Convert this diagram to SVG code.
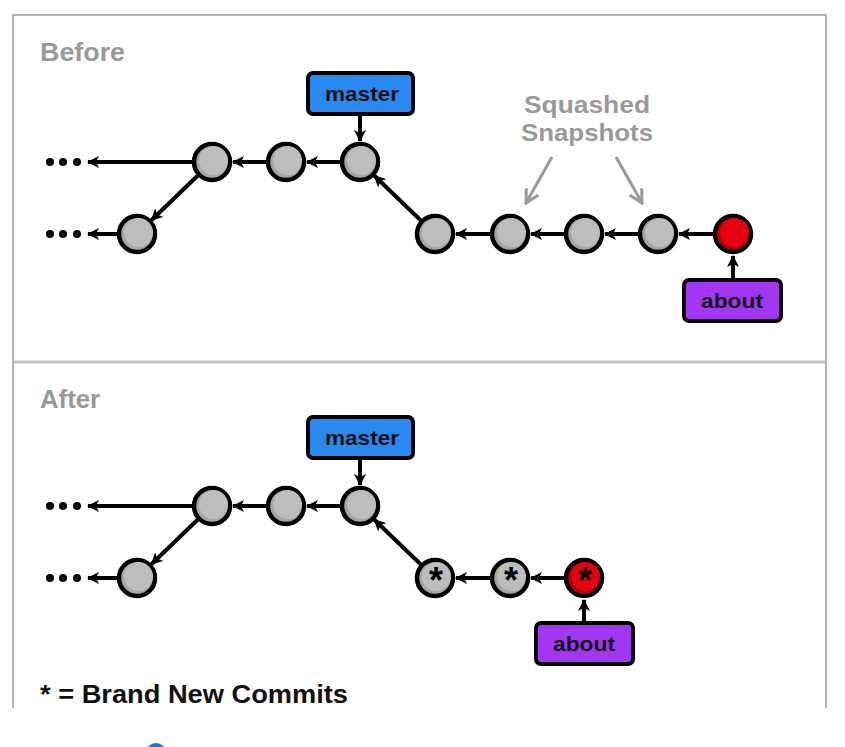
<svg xmlns="http://www.w3.org/2000/svg" width="845" height="747" viewBox="0 0 845 747">
<defs>
<marker id="ah" markerUnits="userSpaceOnUse" markerWidth="12" markerHeight="12" refX="11" refY="6" orient="auto" viewBox="0 0 12 12">
<path d="M0,0 L12,6 L0,12 L3,6 z" fill="#000"/>
</marker>
<marker id="gh" markerUnits="userSpaceOnUse" markerWidth="16" markerHeight="16" refX="14" refY="8" orient="auto" viewBox="0 0 16 16">
<path d="M1,1 L14,8 L1,15" fill="none" stroke="#999" stroke-width="3"/>
</marker>
<g id="commit">
<circle r="18" fill="#a6a6a6" stroke="#000" stroke-width="4.5"/>
<circle cx="1.5" cy="-1.5" r="14.5" fill="#bdbdbd"/>
</g>
<g id="rcommit">
<circle r="18" fill="#b0000a" stroke="#000" stroke-width="4.5"/>
<circle cx="1.5" cy="-1.5" r="14.5" fill="#e60010"/>
</g>
</defs>
<style>
.lbl{font-family:"Liberation Sans","Arial",sans-serif;font-weight:700}
.sec{fill:#999;font-size:25px}
.box{stroke:#000;stroke-width:4}
.btxt{fill:#111;font-size:21px;text-anchor:middle}
.conn{stroke:#000;stroke-width:4;fill:none;marker-end:url(#ah)}
.gconn{stroke:#999;stroke-width:3;fill:none;marker-end:url(#gh)}
.star{font-family:"Liberation Sans",sans-serif;font-weight:700;font-size:36px;fill:#000;text-anchor:middle}
.dot{fill:#000}
</style>
<rect x="0" y="0" width="845" height="747" fill="#fff"/>
<path d="M13,708 L13,15 L826,15 L826,708" fill="none" stroke="#999" stroke-width="1.5"/>
<line x1="14" y1="362" x2="825" y2="362" stroke="#c4c4c4" stroke-width="3"/>

<text class="lbl sec" x="40" y="61" textLength="85" lengthAdjust="spacingAndGlyphs">Before</text>
<text class="lbl sec" x="40" y="408" textLength="60" lengthAdjust="spacingAndGlyphs">After</text>
<text class="lbl" x="40" y="703" font-size="25" fill="#111" textLength="308" lengthAdjust="spacingAndGlyphs">* = Brand New Commits</text>
<circle cx="156" cy="753" r="10" fill="#0a7ad8"/>

<g id="connectors">
<line class="conn" x1="192" y1="162" x2="88" y2="162"/>
<line class="conn" x1="267" y1="162" x2="233" y2="162"/>
<line class="conn" x1="341" y1="162" x2="307" y2="162"/>
<line class="conn" x1="360" y1="114" x2="360" y2="141"/>
<line class="conn" x1="197.6" y1="175.8" x2="151.4" y2="220.2"/>
<line class="conn" x1="117" y1="234" x2="88" y2="234"/>
<line class="conn" x1="420.6" y1="220.2" x2="374.4" y2="175.8"/>
<line class="conn" x1="490" y1="234" x2="456" y2="234"/>
<line class="conn" x1="564" y1="234" x2="531" y2="234"/>
<line class="conn" x1="638" y1="234" x2="605" y2="234"/>
<line class="conn" x1="713" y1="234" x2="679" y2="234"/>
<line class="conn" x1="733" y1="279" x2="733" y2="256"/>
<line class="gconn" x1="552" y1="157" x2="526" y2="203"/>
<line class="gconn" x1="616" y1="157" x2="642" y2="203"/>

<line class="conn" x1="192" y1="506" x2="88" y2="506"/>
<line class="conn" x1="267" y1="506" x2="233" y2="506"/>
<line class="conn" x1="341" y1="506" x2="307" y2="506"/>
<line class="conn" x1="360" y1="458" x2="360" y2="485"/>
<line class="conn" x1="197.6" y1="519.8" x2="151.4" y2="564.2"/>
<line class="conn" x1="117" y1="578" x2="88" y2="578"/>
<line class="conn" x1="420.6" y1="564.2" x2="374.4" y2="519.8"/>
<line class="conn" x1="490" y1="578" x2="456" y2="578"/>
<line class="conn" x1="564" y1="578" x2="531" y2="578"/>
<line class="conn" x1="584" y1="623" x2="584" y2="600"/>
</g>

<g id="before-dots-top"><circle class="dot" cx="50" cy="162" r="4"/><circle class="dot" cx="63" cy="162" r="4"/><circle class="dot" cx="77" cy="162" r="4"/></g>
<g id="before-dots-bottom"><circle class="dot" cx="50" cy="234" r="4"/><circle class="dot" cx="63" cy="234" r="4"/><circle class="dot" cx="77" cy="234" r="4"/></g>
<g id="b-c1"><use href="#commit" x="212" y="162"/></g>
<g id="b-c2"><use href="#commit" x="286" y="162"/></g>
<g id="b-c3"><use href="#commit" x="360" y="162"/></g>
<g id="b-c0"><use href="#commit" x="137" y="234"/></g>
<g id="b-c4"><use href="#commit" x="435" y="234"/></g>
<g id="b-c5"><use href="#commit" x="510" y="234"/></g>
<g id="b-c6"><use href="#commit" x="584" y="234"/></g>
<g id="b-c7"><use href="#commit" x="658" y="234"/></g>
<g id="b-c8"><use href="#rcommit" x="733" y="234"/></g>
<g id="b-master"><rect class="box" x="308" y="73" width="105" height="41" rx="5" fill="#2a88f2"/><text class="lbl btxt" x="362" y="101" textLength="74" lengthAdjust="spacingAndGlyphs">master</text></g>
<g id="b-about"><rect class="box" x="684" y="280" width="97" height="41" rx="5" fill="#a236f2"/><text class="lbl btxt" x="732" y="308" textLength="62" lengthAdjust="spacingAndGlyphs">about</text></g>
<g id="b-squash"><text class="lbl" x="587" y="113" font-size="23" fill="#999" text-anchor="middle" textLength="126" lengthAdjust="spacingAndGlyphs">Squashed</text><text class="lbl" x="587" y="141" font-size="23" fill="#999" text-anchor="middle" textLength="132" lengthAdjust="spacingAndGlyphs">Snapshots</text></g>

<g id="after-dots-top"><circle class="dot" cx="50" cy="506" r="4"/><circle class="dot" cx="63" cy="506" r="4"/><circle class="dot" cx="77" cy="506" r="4"/></g>
<g id="after-dots-bottom"><circle class="dot" cx="50" cy="578" r="4"/><circle class="dot" cx="63" cy="578" r="4"/><circle class="dot" cx="77" cy="578" r="4"/></g>
<g id="a-c1"><use href="#commit" x="212" y="506"/></g>
<g id="a-c2"><use href="#commit" x="286" y="506"/></g>
<g id="a-c3"><use href="#commit" x="360" y="506"/></g>
<g id="a-c0"><use href="#commit" x="137" y="578"/></g>
<g id="a-n1"><use href="#commit" x="435" y="578"/><text class="star" x="436" y="593">*</text></g>
<g id="a-n2"><use href="#commit" x="510" y="578"/><text class="star" x="511" y="593">*</text></g>
<g id="a-n3"><use href="#rcommit" x="584" y="578"/><text class="star" x="585" y="593">*</text></g>
<g id="a-master"><rect class="box" x="308" y="417" width="105" height="41" rx="5" fill="#2a88f2"/><text class="lbl btxt" x="362" y="445" textLength="74" lengthAdjust="spacingAndGlyphs">master</text></g>
<g id="a-about"><rect class="box" x="536" y="623" width="97" height="41" rx="5" fill="#a236f2"/><text class="lbl btxt" x="584" y="651" textLength="62" lengthAdjust="spacingAndGlyphs">about</text></g>
</svg>
